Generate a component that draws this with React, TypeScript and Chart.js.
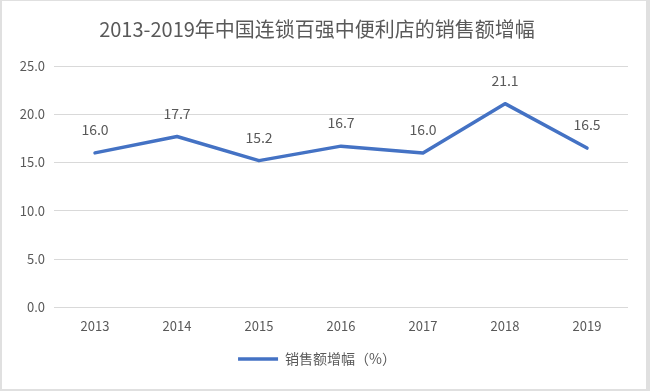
import React, { useEffect, useRef } from "react";
import { Chart, registerables } from "chart.js";

Chart.register(...registerables);

const title = "2013-2019年中国连锁百强中便利店的销售额增幅";
const seriesName = "销售额增幅（%）";
const years = ["2013", "2014", "2015", "2016", "2017", "2018", "2019"];
const growth = [16.0, 17.7, 15.2, 16.7, 16.0, 21.1, 16.5];

const FONT = "'Microsoft YaHei', 'Noto Sans CJK SC', 'Noto Sans', sans-serif";
const TEXT = "#595959";
const LINE = "#4472C4";

const dataLabels = {
  id: "dataLabels",
  afterDatasetsDraw(chart: any) {
    const ctx = chart.ctx;
    const meta = chart.getDatasetMeta(0);
    const values = chart.data.datasets[0].data as number[];
    ctx.save();
    ctx.font = `14px ${FONT}`;
    ctx.fillStyle = TEXT;
    ctx.textAlign = "center";
    ctx.textBaseline = "middle";
    meta.data.forEach((pt: any, i: number) => {
      ctx.fillText(values[i].toFixed(1), pt.x, pt.y - 23);
    });
    ctx.restore();
  },
};

export default function App() {
  const ref = useRef<HTMLCanvasElement>(null);
  useEffect(() => {
    document.body.style.margin = "0";
    const chart = new Chart(ref.current!, {
      type: "line",
      data: {
        labels: years,
        datasets: [
          {
            label: seriesName,
            data: growth,
            borderColor: LINE,
            backgroundColor: LINE,
            borderWidth: 3.5,
            pointRadius: 0,
            tension: 0,
            borderJoinStyle: "round",
            borderCapStyle: "round",
          },
        ],
      },
      options: {
        responsive: false,
        animation: false,
        layout: { padding: { left: 4, right: 18, top: 8, bottom: 13 } },
        plugins: {
          title: {
            display: true,
            text: title,
            color: TEXT,
            font: { family: FONT, size: 20, weight: "normal" },
            padding: { top: 8, bottom: 25 },
          },
          legend: {
            position: "bottom",
            labels: {
              color: TEXT,
              font: { family: FONT, size: 14 },
              usePointStyle: true,
              pointStyle: "line",
              pointStyleWidth: 40,
              padding: 12,
            },
          },
          tooltip: { enabled: false },
        },
        scales: {
          x: {
            offset: true,
            grid: { display: false },
            border: { display: false },
            afterFit: (s: any) => {
              s.height = s.height + 3;
            },
            ticks: { color: TEXT, font: { family: FONT, size: 13 }, padding: 3 },
          },
          y: {
            min: 0,
            max: 25,
            afterFit: (s: any) => {
              s.width = 48;
            },
            grid: { color: "#d9d9d9", lineWidth: 1, drawTicks: false },
            border: { display: false },
            ticks: {
              stepSize: 5,
              color: TEXT,
              font: { family: FONT, size: 13 },
              padding: 9,
              callback: (v: any) => Number(v).toFixed(1),
            },
          },
        },
      },
      plugins: [dataLabels],
    });
    return () => chart.destroy();
  }, []);
  return (
    <div
      style={{
        width: 650,
        height: 391,
        boxSizing: "border-box",
        background: "#ffffff",
        borderLeft: "2px solid #e0e0e0",
        borderTop: "1px solid #e0e0e0",
        borderRight: "4px solid #e0e0e0",
        borderBottom: "2px solid #e0e0e0",
        position: "relative",
        overflow: "hidden",
      }}
    >
      <canvas
        ref={ref}
        width={644}
        height={388}
        style={{ display: "block", width: 644, height: 388 }}
      />
    </div>
  );
}
